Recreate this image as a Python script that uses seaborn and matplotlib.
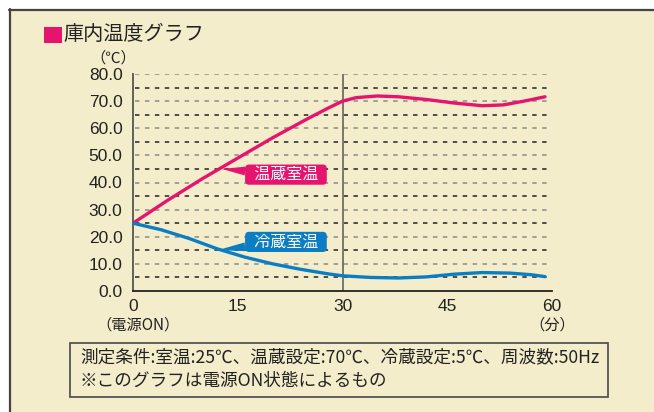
import numpy as np
import pandas as pd
import seaborn as sns
import matplotlib.pyplot as plt
from matplotlib.patches import Rectangle
from matplotlib.lines import Line2D

# data (minutes, deg C)
warm_t = [0, 5, 10, 15, 20, 25, 28, 30, 32, 35, 38, 42, 46, 50, 53, 56, 59]
warm_v = [25, 33.5, 41.5, 49, 56.5, 63.5, 67.5, 70, 71.3, 71.9, 71.6, 70.6, 69.3, 68.3, 68.6, 70, 71.6]
cold_t = [0, 4, 8, 12, 16, 20, 24, 28, 30, 34, 38, 42, 46, 50, 54, 57, 59]
cold_v = [25, 22.6, 19.4, 15.6, 12.5, 10, 8, 6.3, 5.6, 5, 4.8, 5.2, 6.2, 6.8, 6.6, 6.0, 5.3]
x_ticks = [0, 15, 30, 45, 60]
y_ticks = [0, 10, 20, 30, 40, 50, 60, 70, 80]
grid_levels = [5, 10, 15, 20, 25, 30, 35, 40, 45, 50, 55, 60, 65, 70, 75, 80]

pink = "#E4146F"
blue = "#0B7DC2"
bg = "#F4EDCB"

sns.set_style("white")
plt.rcParams['font.family'] = ['Noto Sans CJK JP', 'DejaVu Sans']

W, H = 654, 412
fig = plt.figure(figsize=(W / 100, H / 100), dpi=100, facecolor="white")

def fx(px):
    return px / W

def fy(py):
    return 1 - py / H

# beige panel with top and left border
fig.patches.append(Rectangle((fx(9), 0), fx(W - 9), fy(9), transform=fig.transFigure,
                             facecolor=bg, edgecolor="none", zorder=-2))
fig.lines.append(Line2D([fx(9), 1], [fy(9.5), fy(9.5)], transform=fig.transFigure, color="#444", lw=1.6, zorder=-1))
fig.lines.append(Line2D([fx(9.5), fx(9.5)], [0, fy(9)], transform=fig.transFigure, color="#444", lw=1.6, zorder=-1))

ax = fig.add_axes([fx(133), fy(291), fx(552) - fx(133), fy(74) - fy(291)])
ax.set_facecolor("none")

for v in grid_levels:
    ax.hlines(v, 0.3, 59.4, colors="#8a8a84" if v % 10 == 0 else "#222222",
              linestyles=(0, (2.9, 3.6)), lw=1.1, zorder=1)
ax.axvline(30, color="#777770", lw=1.4, zorder=1)

sns.lineplot(x=warm_t, y=warm_v, ax=ax, color=pink, lw=2.4, zorder=3)
sns.lineplot(x=cold_t, y=cold_v, ax=ax, color=blue, lw=2.4, zorder=3)

ax.set_xlim(0, 60)
ax.set_ylim(0, 80)
ax.set_xticks(x_ticks)
ax.set_xticklabels([str(t) for t in x_ticks], family="Liberation Sans")
ax.set_yticks(y_ticks)
ax.set_yticklabels([f"{v:.1f}" for v in y_ticks], family="Liberation Sans")
ax.set_yticks(grid_levels[::2], minor=True)
ax.tick_params(axis="x", direction="in", length=5, width=1, color="#222", labelsize=12.5, labelcolor="#222", pad=6)
ax.tick_params(axis="y", direction="out", length=2.5, width=1, color="#999", labelsize=12.5, labelcolor="#222", pad=5)
ax.tick_params(axis="y", which="minor", direction="out", length=2.5, width=1, color="#999")
for s in ["top", "right"]:
    ax.spines[s].set_visible(False)
ax.spines["left"].set_color("#555")
ax.spines["left"].set_linewidth(1.3)
ax.spines["bottom"].set_color("#222")
ax.spines["bottom"].set_linewidth(1.3)

for label, xy, xyt, c in [("温蔵室温", (12.7, 45.0), (21.9, 42.9), pink),
                          ("冷蔵室温", (12.2, 15.1), (21.9, 18.1), blue)]:
    ax.annotate("  " + label + "  ", xy=xy, xytext=xyt, ha="center", va="center",
                color="white", fontsize=11.5, zorder=5,
                bbox=dict(boxstyle="round,pad=0.1,rounding_size=0.25", fc=c, ec="none"),
                arrowprops=dict(arrowstyle="wedge,tail_width=0.55,shrink_factor=0.5",
                                fc=c, ec="none", shrinkA=0, shrinkB=0))

# title and unit texts
fig.patches.append(Rectangle((fx(44), fy(43)), fx(62) - fx(44), fy(27) - fy(43),
                             transform=fig.transFigure, facecolor=pink, edgecolor="none"))
fig.text(fx(63), fy(35), "庫内温度グラフ", color="#222", fontsize=14.5, va="center", ha="left")
fig.text(fx(113), fy(58), "（℃）", color="#222", fontsize=11, va="center", ha="center")
fig.text(fx(138), fy(325), "（電源ON）", color="#222", fontsize=11, va="center", ha="center")
fig.text(fx(552), fy(325), "（分）", color="#222", fontsize=11, va="center", ha="center")

# note box
fig.patches.append(Rectangle((fx(70), fy(397)), fx(608) - fx(70), fy(343) - fy(397),
                             transform=fig.transFigure, facecolor="none", edgecolor="#555", lw=1.3))
fig.text(fx(80), fy(357), "測定条件:室温:25℃、温蔵設定:70℃、冷蔵設定:5℃、周波数:50Hz",
         color="#222", fontsize=12.7, va="center", ha="left")
fig.text(fx(80), fy(381), "※このグラフは電源ON状態によるもの",
         color="#222", fontsize=12.7, va="center", ha="left")

fig.savefig("out.png", dpi=100, facecolor="white")
